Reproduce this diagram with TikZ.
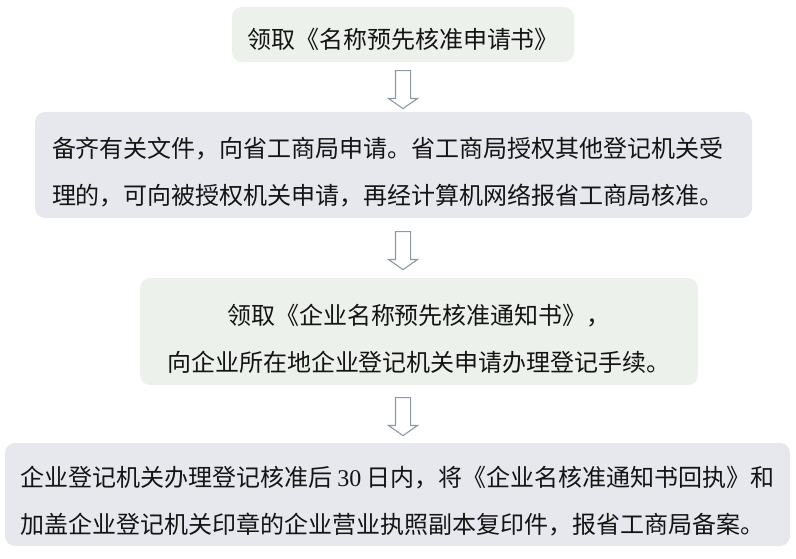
\documentclass[tikz,border=0pt]{standalone}
\usepackage{fontspec}
\setmainfont{Noto Sans CJK SC}
\newfontfamily\latinnum{Liberation Serif}
\usetikzlibrary{shapes.arrows,calc}

\definecolor{boxgreen}{HTML}{EDF1EC}
\definecolor{boxgray}{HTML}{E7E8EE}
\definecolor{arrowgray}{HTML}{8D9AA6}
\definecolor{textblack}{HTML}{141414}

\tikzset{
  stepbox/.style={rounded corners=10pt, inner sep=0pt},
  steptext/.style={inner sep=0pt, text=textblack, font=\fontsize{24}{47}\selectfont},
  downarrow/.style={single arrow, draw=arrowgray, line width=1.1pt, fill=white,
    shape border rotate=270, inner sep=7pt, minimum height=38pt,
    single arrow head extend=7pt, single arrow tip angle=110}
}

\begin{document}
\begin{tikzpicture}[x=1pt,y=1pt]
\useasboundingbox (0,0) rectangle (796,-559);

\node[stepbox, fill=boxgreen, minimum width=342, minimum height=55] (b1) at (403,-34.5) {};
\node[steptext] (t1) at ([yshift=-5]b1.center) {领取《名称预先核准申请书》};

\node[stepbox, fill=boxgray, minimum width=717, minimum height=106] (b2) at (393.5,-165) {};
\node[steptext, text width=683, align=left] (t2) at ([yshift=-7]b2.center)
  {备齐有关文件，向省工商局申请。省工商局授权其他登记机关受\\理的，可向被授权机关申请，再经计算机网络报省工商局核准。};

\node[stepbox, fill=boxgreen, minimum width=558, minimum height=107] (b3) at (419,-331.5) {};
\node[steptext, align=center] (t3) at ([yshift=-7]b3.center)
  {领取《企业名称预先核准通知书》，\\向企业所在地企业登记机关申请办理登记手续。};

\node[stepbox, fill=boxgray, minimum width=785, minimum height=103] (b4) at (397.5,-494.5) {};
\node[steptext, align=left] (t4) at ([yshift=-7]b4.center)
  {企业登记机关办理登记核准后 {\latinnum 30} 日内，将《企业名核准通知书回执》和\\加盖企业登记机关印章的企业营业执照副本复印件，报省工商局备案。};

% arrows between the steps
\node[downarrow] (a1) at ($(b1.south)!0.5!(b1.south |- b2.north)$) {};
\node[downarrow] (a2) at ($(b1.south |- b2.south)!0.5!(b1.south |- b3.north)$) {};
\node[downarrow] (a3) at ($(b1.south |- b3.south)!0.5!(b1.south |- b4.north)$) {};

\end{tikzpicture}
\end{document}
